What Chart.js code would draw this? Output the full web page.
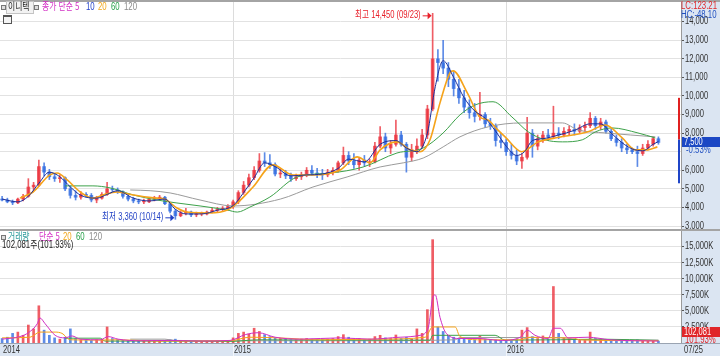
<!DOCTYPE html>
<html lang="ko">
<head>
<meta charset="UTF-8">
<title>이니텍 주가</title>
<script src="https://cdn.jsdelivr.net/npm/chart.js@4.4.1/dist/chart.umd.min.js"></script>
<style>
  body { margin: 0; width: 720px; height: 356px; overflow: hidden; background: #dbe5f2; position: relative;
         font-family: 'Liberation Sans', 'Noto Sans CJK KR', sans-serif; }
  .box { position: absolute; left: 0; width: 720px; }
  .t { position: absolute; white-space: nowrap; line-height: 12px; font-size: 10px;
       transform: scaleX(0.78); transform-origin: 0 50%; }
  .k { font-family: 'Noto Sans CJK KR', sans-serif; }
  .sq { position: absolute; width: 3px; height: 3px; border: 1px solid #777; background: #ddd; }
  .hr { position: absolute; left: 0; width: 720px; height: 1px; background: #a4a4a4; }
  .tag { position: absolute; width: 38px; height: 10px; }
  .tag span { position: absolute; left: 2px; top: -1px; font-size: 10px; line-height: 12px; color: #fff;
              transform: scaleX(0.75); transform-origin: 0 50%; white-space: nowrap; }
  .under { position: absolute; left: 682px; width: 38px; background: #dbe5f2; }
</style>
</head>
<body>
  <div class="hr" style="top:0; height:2px;"></div>
  <div class="box" style="top:2px; height:228px;"><canvas id="price"></canvas></div>
  <div class="hr" style="top:229px; height:2px;"></div>
  <div class="box" style="top:231px; height:125px;"><canvas id="volume"></canvas></div>

  <!-- 가격 패널 제목 -->
  <div class="sq" style="left:1px; top:5px;"></div>
  <div style="position:absolute; left:6px; top:1px; width:26px; height:11px; border:1px solid #c4c4c4; background:#f2f2f2;"></div>
  <div class="t k" style="left:8px; top:0px; color:#222;">이니텍</div>
  <div class="sq" style="left:34px; top:5px;"></div>
  <div class="t k" style="left:42px; top:0px; color:#d22fc4;">종가 단순 5</div>
  <div class="t" style="left:86px; top:1px; color:#2341c9;">10</div>
  <div class="t" style="left:98px; top:1px; color:#f2a81d;">20</div>
  <div class="t" style="left:111px; top:1px; color:#27a04a;">60</div>
  <div class="t" style="left:124px; top:1px; color:#8a8a8a;">120</div>
  <div style="position:absolute; left:3px; top:15px; width:7px; height:6px; border:1px solid #555; border-top-width:2px; background:#f4f4f4;"></div>

  <!-- 거래량 패널 제목 -->
  <div class="sq" style="left:1px; top:235px;"></div>
  <div class="t k" style="left:8px; top:230px; color:#2b9b9b;">거래량</div>
  <div class="t k" style="left:39px; top:230px; color:#d22fc4;">단순 5</div>
  <div class="t" style="left:63px; top:231px; color:#f2a81d;">20</div>
  <div class="t" style="left:76px; top:231px; color:#27a04a;">60</div>
  <div class="t" style="left:89px; top:231px; color:#8a8a8a;">120</div>
  <div class="t" style="left:2px; top:238px; color:#222;">102,081<span class="k">주</span>(101.93%)</div>

  <!-- 오른쪽 축 표시 -->
  <div class="t" style="left:681px; top:0px; color:#e0262a;">LC:123.21</div>
  <div class="t" style="left:681px; top:9px; color:#2050c0;">HC:-48.10</div>
  <div class="under" style="top:146px; height:9px;"></div>
  <div class="tag" style="left:682px; top:137px; background:#1b47c4;"><span>7,500</span></div>
  <div class="t" style="left:686px; top:144px; color:#2050c0;">-0.53%</div>
  <div class="under" style="top:337px; height:6px;"></div>
  <div class="tag" style="left:682px; top:327px; background:#e0262a;"><span>102,081</span></div>
  <div class="t" style="left:685px; top:334px; color:#e0262a;">101.93%</div>

<script>
    // 주봉 데이터 (2014-03 ~ 2016-07-25), 그림에서 읽은 값
    const opens = [
        4450, 4400, 4300, 4250, 4450, 4600, 5100, 5200, 6200, 5900,
        5650, 5550, 5600, 5000, 4650, 4550, 4700, 4650, 4400, 4500,
        4700, 5000, 4950, 4850, 4600, 4450, 4350, 4300, 4300, 4450,
        4500, 4550, 4200, 3800, 3550, 3700, 3750, 3600, 3650, 3650,
        3750, 3850, 3900, 3950, 4050, 4300, 4800, 5200, 5600, 6000,
        6500, 6400, 6300, 5800, 5850, 5700, 5550, 5650, 5750, 6000,
        5850, 5800, 5750, 5900, 6000, 6400, 6800, 6500, 6300, 6550,
        6400, 6450, 7300, 7800, 7200, 7400, 7900, 7400, 6700, 7100,
        7300, 7900, 9300, 12000, 11800, 11500, 10900, 10400, 9900, 9400,
        9100, 8900, 9000, 8500, 8400, 7600, 7500, 7000, 6800, 6500,
        6700, 8000, 7300, 7700, 7900, 7800, 8000, 7900, 8100, 8200,
        8100, 8300, 8400, 8800, 8400, 8600, 8100, 7700, 7500, 7200,
        7100, 7000, 6900, 7200, 7400, 7700
    ];
    const highs = [
        4600, 4500, 4400, 4500, 4700, 5550, 5350, 6550, 6400, 6050,
        5800, 5750, 5650, 5150, 4900, 4850, 4800, 4750, 4600, 4800,
        5350, 5150, 5050, 4900, 4700, 4550, 4450, 4450, 4550, 4600,
        4650, 4600, 4250, 3900, 3800, 3950, 3800, 3750, 3750, 3800,
        3950, 4000, 4050, 4150, 4400, 4900, 5400, 5800, 6200, 6900,
        6950, 6850, 6400, 6100, 6000, 5850, 5800, 5900, 6150, 6250,
        6100, 6050, 6050, 6150, 6500, 7250, 7000, 6900, 6700, 6800,
        6600, 7500, 8350, 8000, 7600, 8700, 8100, 7500, 7400, 7700,
        8200, 9500, 14450, 12500, 13000, 11800, 11300, 10900, 10300, 9800,
        9600, 10200, 9100, 8800, 8500, 8000, 7700, 7400, 7100, 6900,
        8850, 8200, 7900, 8100, 8200, 9450, 8300, 8300, 8400, 8500,
        8450, 8600, 9100, 8900, 8800, 8700, 8200, 7900, 7700, 7400,
        7200, 7300, 7400, 7600, 7800, 7800
    ];
    const lows = [
        4350, 4250, 4150, 4200, 4350, 4550, 4900, 5150, 5700, 5500,
        5400, 5350, 4900, 4500, 4400, 4450, 4550, 4300, 4250, 4450,
        4650, 4800, 4750, 4500, 4350, 4250, 4200, 4200, 4250, 4350,
        4400, 4150, 3700, 3360, 3500, 3600, 3500, 3500, 3550, 3600,
        3700, 3750, 3800, 3850, 3950, 4200, 4700, 5100, 5500, 5900,
        6200, 6100, 5700, 5600, 5550, 5400, 5450, 5500, 5650, 5750,
        5600, 5500, 5650, 5750, 5900, 6300, 6300, 6100, 6000, 6200,
        6200, 6400, 7200, 7000, 6900, 7300, 7300, 5900, 6500, 6900,
        7200, 7700, 9200, 10800, 11200, 10500, 10000, 9600, 9100, 8800,
        8600, 8700, 8300, 8200, 7300, 7200, 6800, 6600, 6300, 6100,
        6600, 6700, 7100, 7500, 7600, 7700, 7700, 7800, 7900, 7900,
        8000, 8100, 8300, 8200, 8200, 8000, 7600, 7300, 7000, 6900,
        6900, 6200, 6800, 7100, 7300, 7400
    ];
    const closes = [
        4400, 4300, 4250, 4450, 4600, 5100, 5200, 6200, 5900, 5650,
        5550, 5600, 5000, 4650, 4550, 4700, 4650, 4400, 4500, 4700,
        5000, 4950, 4850, 4600, 4450, 4350, 4300, 4300, 4450, 4500,
        4550, 4200, 3800, 3550, 3700, 3750, 3600, 3650, 3650, 3750,
        3850, 3900, 3950, 4050, 4300, 4800, 5200, 5600, 6000, 6500,
        6400, 6300, 5800, 5850, 5700, 5550, 5650, 5750, 6000, 5850,
        5800, 5750, 5900, 6000, 6400, 6800, 6500, 6300, 6550, 6400,
        6450, 7300, 7800, 7200, 7400, 7900, 7400, 6700, 7100, 7300,
        7900, 9300, 12000, 11800, 11500, 10900, 10400, 9900, 9400, 9100,
        8900, 9000, 8500, 8400, 7600, 7500, 7000, 6800, 6500, 6700,
        8000, 7300, 7700, 7900, 7800, 8000, 7900, 8100, 8200, 8100,
        8300, 8400, 8800, 8400, 8600, 8100, 7700, 7500, 7200, 7100,
        7000, 6900, 7200, 7400, 7700, 7500
    ];
    // 거래량 (천 주)
    const volumes = [
        700, 900, 1500, 1700, 1200, 2800, 2200, 5800, 2000, 1200,
        800, 600, 900, 2200, 700, 500, 400, 400, 500, 600,
        2500, 700, 500, 400, 350, 300, 300, 400, 350, 300,
        300, 350, 500, 600, 400, 300, 250, 250, 250, 300,
        300, 300, 350, 400, 800, 1500, 1700, 1400, 2300, 1800,
        1300, 1000, 800, 700, 600, 500, 500, 600, 700, 600,
        500, 500, 600, 700, 1000, 1300, 900, 600, 700, 500,
        600, 1000, 1200, 800, 700, 1250, 700, 900, 600, 2200,
        1500, 5200, 16100, 2500, 1800, 1200, 900, 700, 600, 500,
        500, 1100, 600, 450, 500, 400, 400, 350, 600, 2000,
        2400, 1000, 700, 1100, 600, 8800, 1500, 800, 600, 500,
        500, 500, 1700, 700, 600, 500, 400, 400, 350, 350,
        400, 500, 400, 350, 300, 300
    ];

    // 가격 이동평균 (주 위치, 값)
    const ma10At = [0, 3, 5, 7, 9, 11, 13, 15, 18, 20, 22, 25, 28, 31, 33, 35, 38, 41, 44, 46, 48, 50, 52, 55, 58, 61,
                    64, 66, 69, 72, 75, 77, 79, 81, 82.5, 84, 86, 88, 90, 92, 94, 96, 98, 99.5, 101, 103, 106, 109,
                    112, 114, 116, 118, 120, 122, 124, 125];
    const ma10 = [4450, 4300, 4600, 5300, 5900, 5650, 5100, 4650, 4500, 4700, 4900, 4500, 4350, 4450, 3900, 3650, 3650, 3850,
                  4100, 4800, 5600, 6400, 6200, 5700, 5750, 5800, 6100, 6600, 6450, 7400, 7600, 7200, 7000, 8000, 10500,
                  11900, 11000, 9900, 9200, 8800, 8100, 7300, 6800, 7000, 7600, 7700, 7900, 8150, 8500, 8500, 8000, 7500,
                  7150, 7050, 7400, 7550];
    const ma20At = [3.4, 5.9, 9.1, 10.5, 12.4, 14.9, 17.3, 19.2, 21.9, 25, 29.5, 30.7, 33.3, 35.2, 39.6, 42.9, 44.8, 47.8,
                    51.6, 55.4, 59.2, 64.4, 67.6, 70.1, 72, 75.2, 77.7, 79.6, 81.5, 83.4, 85.3, 85.9, 88.6, 91, 92.6, 94.3,
                    95.8, 99, 102.1, 105.3, 111.6, 114.9, 118.1, 120.6, 123, 124.8];
    const ma20 = [4500, 4830, 5750, 5850, 5480, 4830, 4500, 4670, 4830, 4670, 4500, 4480, 3970, 3750, 3700, 3860, 4240, 5100,
                  6290, 5750, 5750, 6020, 6720, 6400, 7100, 7530, 7100, 7000, 7640, 9630, 11250, 11350, 10170, 8870, 8700, 8200,
                  7800, 7000, 7530, 7740, 8070, 8440, 7740, 7100, 7100, 7260];
    const ma60At = [12, 17.3, 20.6, 25, 29.5, 33.3, 37.7, 42.9, 44.8, 47.2, 51, 56.2, 62.5, 68.8, 75.2, 80.2, 84, 87.2, 90.1,
                    93.5, 97.1, 100.2, 103.4, 106.7, 110.5, 113, 116.2, 121.1, 124.4];
    const ma60 = [5160, 5160, 5050, 4670, 4400, 4240, 4080, 3860, 3750, 4020, 4560, 5640, 5850, 6180, 6930, 7200, 8010, 8980, 9520,
                  9690, 8870, 8070, 7640, 7530, 7640, 8070, 8280, 8010, 7740];
    const ma120At = [24.4, 28.2, 32, 37.7, 44, 53, 59.2, 65.7, 72, 76.4, 80.2, 84, 87.2, 92.6, 99, 106.7, 109.7, 114.9, 124.4];
    const ma120 = [4940, 4900, 4780, 4400, 4080, 4450, 5100, 5640, 6180, 6400, 6660, 7260, 7800, 8340, 8550, 8550, 8170, 8010, 7800];

    // 거래량 이동평균
    const vma5At = [0, 3.4, 5, 6.7, 7.2, 8.2, 10.1, 12, 13.3, 14.9, 18.7, 20.2, 22.1, 26.3, 32, 37.7, 43.4, 46.3, 48.8, 52, 56.8,
                    64.4, 70.1, 75.8, 79.6, 81.2, 82, 82.5, 83.4, 84.6, 87.2, 91, 94.9, 98.7, 100, 101.5, 104, 105, 106.3, 107.8,
                    111.6, 115.8, 125];
    const vma5 = [600, 1000, 1600, 3000, 3900, 3000, 1200, 800, 1100, 600, 500, 1000, 600, 350, 400, 300, 400, 1300, 1600, 900, 600,
                  800, 600, 900, 1200, 2500, 7000, 7500, 4000, 1500, 700, 700, 400, 900, 2000, 1200, 700, 2300, 2300, 800,
                  900, 500, 300];
    const vma20At = [0, 5.3, 7.2, 10.1, 11.4, 13, 18.7, 22.1, 29.7, 43.4, 47.2, 52.6, 60.6, 71.6, 80.6, 82, 86.3, 87.2, 91, 98.7,
                     100.6, 105.3, 108.6, 110, 125];
    const vma20 = [800, 900, 1700, 1700, 1500, 500, 450, 500, 300, 350, 900, 800, 500, 600, 900, 2500, 2500, 1000, 500, 500,
                   900, 800, 800, 500, 350];
    const vma60At = [12, 18.7, 19.6, 30.1, 43.4, 49.1, 62.5, 81.5, 82, 93.9, 95.8, 106.3, 113.9, 125];
    const vma60 = [750, 750, 300, 300, 250, 500, 450, 450, 1200, 1200, 450, 500, 600, 400];
    const vma120At = [24.4, 31, 33, 43.4, 68, 86.3, 87.2, 106.3, 110, 125];
    const vma120 = [600, 600, 400, 350, 350, 500, 850, 850, 500, 450];

    // 축 눈금
    const priceTicks = [3000, 4000, 5000, 6000, 7000, 8000, 9000, 10000, 11000, 12000, 13000, 14000];
    const volTicks = [2500, 5000, 7500, 10000, 12500, 15000];
    const yearIdx = [0, 44, 96];
    const yearText = ['2014', '2015', '2016'];
    const lastDate = '07/25';
    // 오른쪽 가격대 표시 (상단 빨강, 하단 파랑)
    const sideUp = [7650, 9900];
    const sideDown = [5300, 7650];

    const UP = 'rgba(234, 48, 58, 0.78)';
    const DOWN = 'rgba(48, 106, 224, 0.78)';
    const AXIS_BG = '#dbe5f2';
    const FONT = "10px 'Liberation Sans', 'Noto Sans CJK KR', sans-serif";
    const SQUEEZE = 0.76;
    const X_MIN = -0.4;
    const X_MAX = 129.3;

    const idx = closes.map((_, i) => i);
    const candleColors = idx.map(i => closes[i] >= opens[i] ? UP : DOWN);

    function pts(at, vals) {
        return at.map((x, k) => ({ x: x, y: vals[k] }));
    }

    function maLine(at, vals, color, width) {
        return {
            type: 'line',
            data: pts(at, vals),
            borderColor: color,
            borderWidth: width,
            pointRadius: 0,
            cubicInterpolationMode: 'monotone',
            fill: false
        };
    }

    // 가로로 좁힌 글자 (원본의 좁은 비트맵 글꼴 흉내)
    function narrowText(ctx, text, x, y) {
        ctx.save();
        ctx.translate(x, y);
        ctx.scale(SQUEEZE, 1);
        ctx.fillText(text, 0, 0);
        ctx.restore();
    }

    // 배경: 축 영역은 하늘색, 차트 영역은 흰색 + 연도 세로선
    const bgPlugin = {
        id: 'bg',
        beforeDraw(chart) {
            const { ctx, chartArea: a, width, height, scales: { x } } = chart;
            ctx.save();
            ctx.fillStyle = AXIS_BG;
            ctx.fillRect(0, 0, width, height);
            ctx.fillStyle = '#ffffff';
            ctx.fillRect(a.left, a.top, a.right - a.left, a.bottom - a.top);
            ctx.strokeStyle = '#dcdcdc';
            ctx.lineWidth = 1;
            yearIdx.slice(1).forEach(v => {
                const px = Math.round(x.getPixelForValue(v)) + 0.5;
                ctx.beginPath();
                ctx.moveTo(px, a.top);
                ctx.lineTo(px, a.bottom);
                ctx.stroke();
            });
            ctx.restore();
        }
    };

    // 오른쪽 축 글자
    function axisPlugin(ticks, fmt) {
        return {
            id: 'axisText',
            afterDraw(chart) {
                const { ctx, chartArea: a, scales: { y } } = chart;
                ctx.save();
                ctx.font = FONT;
                ctx.fillStyle = '#333';
                ctx.textBaseline = 'middle';
                ticks.forEach(v => narrowText(ctx, fmt(v), a.right + 4, y.getPixelForValue(v)));
                ctx.restore();
            }
        };
    }

    function drawTag(ctx, px, py, text, color) {
        ctx.fillStyle = color;
        ctx.strokeStyle = color;
        ctx.lineWidth = 1;
        ctx.beginPath();
        ctx.moveTo(px - 10, py + 0.5);
        ctx.lineTo(px - 3, py + 0.5);
        ctx.stroke();
        ctx.beginPath();
        ctx.moveTo(px - 1, py + 0.5);
        ctx.lineTo(px - 5, py - 3);
        ctx.lineTo(px - 5, py + 4);
        ctx.fill();
        ctx.textAlign = 'right';
        narrowText(ctx, text, px - 12, py);
    }

    // 최고/최저 표시와 오른쪽 가격대 막대
    const markPlugin = {
        id: 'marks',
        afterDatasetsDraw(chart) {
            const { ctx, chartArea: a, scales: { x, y } } = chart;
            const hi = highs.indexOf(Math.max(...highs));
            const lo = lows.indexOf(Math.min(...lows));
            ctx.save();
            ctx.font = FONT;
            ctx.textBaseline = 'middle';
            drawTag(ctx, x.getPixelForValue(hi), y.getPixelForValue(highs[hi]) + 2,
                '최고 ' + highs[hi].toLocaleString('en-US') + ' (09/23)', '#e8202a');
            drawTag(ctx, x.getPixelForValue(lo), y.getPixelForValue(lows[lo]) - 2,
                '최저 ' + lows[lo].toLocaleString('en-US') + ' (10/14)', '#1f3fc4');

            ctx.fillStyle = '#e02020';
            ctx.fillRect(a.right - 3, y.getPixelForValue(sideUp[1]), 2, y.getPixelForValue(sideUp[0]) - y.getPixelForValue(sideUp[1]));
            ctx.fillStyle = '#1f45c8';
            ctx.fillRect(a.right - 3, y.getPixelForValue(sideDown[1]), 2, y.getPixelForValue(sideDown[0]) - y.getPixelForValue(sideDown[1]));
            ctx.restore();
        }
    };

    // 아래쪽 날짜 줄
    const datePlugin = {
        id: 'dates',
        afterDraw(chart) {
            const { ctx, chartArea: a, scales: { x }, width, height } = chart;
            ctx.save();
            ctx.strokeStyle = '#9aa4b2';
            ctx.beginPath();
            ctx.moveTo(0, a.bottom + 0.5);
            ctx.lineTo(width, a.bottom + 0.5);
            ctx.stroke();
            ctx.font = FONT;
            ctx.fillStyle = '#333';
            ctx.textBaseline = 'middle';
            yearIdx.forEach((v, k) => {
                const px = Math.round(x.getPixelForValue(v));
                if (k > 0) {
                    ctx.strokeStyle = '#f3f6fa';
                    ctx.beginPath();
                    ctx.moveTo(px + 0.5, a.bottom + 1);
                    ctx.lineTo(px + 0.5, height);
                    ctx.stroke();
                }
                narrowText(ctx, yearText[k], Math.max(px, 1) + 1, a.bottom + 7);
            });
            narrowText(ctx, lastDate, a.right + 3, a.bottom + 7);
            ctx.restore();
        }
    };

    function xScale() {
        return { type: 'linear', display: false, min: X_MIN, max: X_MAX, offset: false };
    }

    function yScale(min, max, ticks) {
        return {
            position: 'right',
            min: min,
            max: max,
            afterBuildTicks: s => { s.ticks = ticks.map(v => ({ value: v })); },
            afterFit: s => { s.width = 39; },
            ticks: { display: false },
            grid: { color: '#e2e2e2', tickColor: '#555', tickLength: 3 },
            border: { color: '#9a9a9a' }
        };
    }

    const common = {
        responsive: true,
        maintainAspectRatio: false,
        animation: false,
        events: [],
        plugins: { legend: { display: false }, tooltip: { enabled: false } }
    };

    const fmtPrice = v => v.toLocaleString('en-US');
    const fmtVol = v => v.toLocaleString('en-US') + 'K';

    // 가격 차트
    new Chart(document.getElementById('price'), {
        type: 'bar',
        data: {
            datasets: [
                maLine(ma10At, ma10, '#1d2f9a', 1),
                maLine(ma20At, ma20, '#f5a31a', 1.6),
                maLine(ma60At, ma60, '#3da24a', 1),
                maLine(ma120At, ma120, '#9b9b9b', 1),
                {
                    data: idx.map(i => ({ x: i, y: [opens[i], closes[i]] })),
                    backgroundColor: candleColors,
                    barThickness: 3,
                    minBarLength: 1,
                    grouped: false
                },
                {
                    data: idx.map(i => ({ x: i, y: [lows[i], highs[i]] })),
                    backgroundColor: candleColors,
                    barThickness: 1,
                    grouped: false
                }
            ]
        },
        options: Object.assign({}, common, {
            layout: { padding: 0, autoPadding: false },
            scales: {
                x: xScale(),
                y: yScale(2785, 15060, priceTicks)
            }
        }),
        plugins: [bgPlugin, markPlugin, axisPlugin(priceTicks, fmtPrice)]
    });

    // 거래량 차트
    new Chart(document.getElementById('volume'), {
        type: 'bar',
        data: {
            datasets: [
                maLine(vma5At, vma5, '#d22fc4', 1),
                maLine(vma20At, vma20, '#f5a31a', 1),
                maLine(vma60At, vma60, '#3da24a', 1),
                maLine(vma120At, vma120, '#9b9b9b', 1),
                {
                    data: idx.map(i => ({ x: i, y: volumes[i] })),
                    backgroundColor: candleColors,
                    barThickness: 2,
                    grouped: false
                }
            ]
        },
        options: Object.assign({}, common, {
            layout: { padding: { bottom: 13 }, autoPadding: false },
            scales: {
                x: xScale(),
                y: yScale(0, 17450, volTicks)
            }
        }),
        plugins: [bgPlugin, datePlugin, axisPlugin(volTicks, fmtVol)]
    });
</script>
</body>
</html>
